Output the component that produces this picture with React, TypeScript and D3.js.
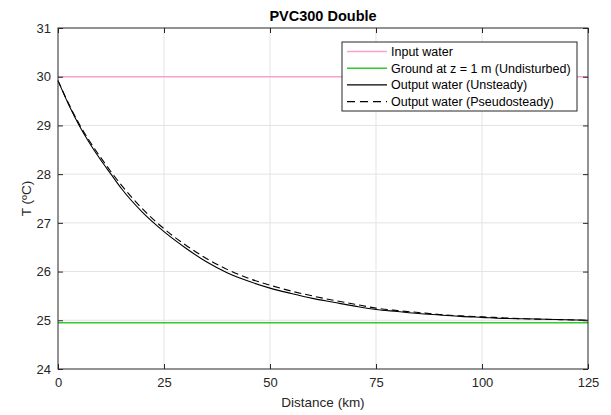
import React, { useEffect, useRef } from "react";
import * as d3 from "d3";

// distance along the pipe (km) and temperatures
const distanceKm = [0, 2.5, 5, 7.5, 10, 12.5, 15, 20, 25, 30, 35, 40, 45, 50, 55, 60, 65, 70, 75, 80, 85, 90, 95, 100, 105, 110, 115, 120, 125];
const unsteadyT = [29.92, 29.43, 29.0, 28.63, 28.3, 28.0, 27.7, 27.21, 26.82, 26.49, 26.2, 25.97, 25.8, 25.66, 25.55, 25.45, 25.37, 25.29, 25.22, 25.18, 25.14, 25.11, 25.08, 25.06, 25.04, 25.03, 25.02, 25.01, 25.0];
const pseudoT = [29.92, 29.45, 29.03, 28.67, 28.35, 28.05, 27.77, 27.28, 26.88, 26.55, 26.27, 26.04, 25.86, 25.72, 25.6, 25.5, 25.41, 25.33, 25.25, 25.2, 25.16, 25.12, 25.09, 25.07, 25.05, 25.03, 25.02, 25.01, 25.0];
const inputWaterT = 30;
const groundT = 24.95;

const xTicks = [0, 25, 50, 75, 100, 125];
const yTicks = [24, 25, 26, 27, 28, 29, 30, 31];

const legendItems = [
    { label: "Input water", color: "#f7a1d2", dash: "" },
    { label: "Ground at z = 1 m (Undisturbed)", color: "#2ecc2e", dash: "" },
    { label: "Output water (Unsteady)", color: "#000000", dash: "" },
    { label: "Output water (Pseudosteady)", color: "#000000", dash: "8,5" },
];

const App = () => {
    const ref = useRef<SVGSVGElement>(null);

    useEffect(() => {
        document.body.style.margin = "0";
        const svg = d3.select(ref.current);
        svg.selectAll("*").remove();

        const width = 611;
        const height = 415;
        const left = 58, right = 588, top = 28, bottom = 369;
        const axisColor = "#262626";
        const font = "'Liberation Sans', Arial, sans-serif";

        const xScale = d3.scaleLinear().domain([0, 125]).range([left, right]);
        const yScale = d3.scaleLinear().domain([24, 31]).range([bottom, top]);

        svg.attr("width", width).attr("height", height).style("background", "white");

        // grid
        const grid = svg.append("g").attr("stroke", "#e3e3e3").attr("stroke-width", 1);
        xTicks.slice(1, -1).forEach(t => {
            grid.append("line")
                .attr("x1", xScale(t)).attr("x2", xScale(t))
                .attr("y1", top).attr("y2", bottom);
        });
        yTicks.slice(1, -1).forEach(t => {
            grid.append("line")
                .attr("x1", left).attr("x2", right)
                .attr("y1", yScale(t)).attr("y2", yScale(t));
        });

        // flat reference lines
        svg.append("line")
            .attr("x1", xScale(0)).attr("x2", xScale(125))
            .attr("y1", yScale(inputWaterT)).attr("y2", yScale(inputWaterT))
            .attr("stroke", legendItems[0].color).attr("stroke-width", 1.6);
        svg.append("line")
            .attr("x1", xScale(0)).attr("x2", xScale(125))
            .attr("y1", yScale(groundT)).attr("y2", yScale(groundT))
            .attr("stroke", legendItems[1].color).attr("stroke-width", 1.4);

        const curve = d3.line<number>()
            .x((d, i) => xScale(distanceKm[i]))
            .y(d => yScale(d))
            .curve(d3.curveMonotoneX);

        svg.append("path")
            .attr("d", curve(pseudoT))
            .attr("fill", "none")
            .attr("stroke", "#000")
            .attr("stroke-width", 1.1)
            .attr("stroke-dasharray", "7,4");
        svg.append("path")
            .attr("d", curve(unsteadyT))
            .attr("fill", "none")
            .attr("stroke", "#000")
            .attr("stroke-width", 1.1);

        // axes (ticks point inward like matlab)
        const xAxis = d3.axisBottom(xScale).tickValues(xTicks).tickFormat(d3.format("d")).tickSizeInner(-5).tickSizeOuter(0).tickPadding(9);
        const yAxis = d3.axisLeft(yScale).tickValues(yTicks).tickFormat(d3.format("d")).tickSizeInner(-5).tickSizeOuter(0).tickPadding(7);

        const gx = svg.append("g")
            .attr("transform", "translate(0," + bottom + ")")
            .call(xAxis);
        const gy = svg.append("g")
            .attr("transform", "translate(" + left + ",0)")
            .call(yAxis);
        [gx, gy].forEach(g => {
            g.select(".domain").remove();
            g.selectAll("line").attr("stroke", axisColor);
            g.selectAll("text")
                .style("font-family", font)
                .style("font-size", "13px")
                .attr("fill", axisColor);
        });

        // top and right ticks
        const gt = svg.append("g").attr("transform", "translate(0," + top + ")")
            .call(d3.axisTop(xScale).tickValues(xTicks).tickSizeInner(-5).tickSizeOuter(0).tickFormat(() => ""));
        const gr = svg.append("g").attr("transform", "translate(" + right + ",0)")
            .call(d3.axisRight(yScale).tickValues(yTicks).tickSizeInner(-5).tickSizeOuter(0).tickFormat(() => ""));
        [gt, gr].forEach(g => {
            g.select(".domain").remove();
            g.selectAll("line").attr("stroke", axisColor);
        });

        // box
        svg.append("rect")
            .attr("x", left).attr("y", top)
            .attr("width", right - left).attr("height", bottom - top)
            .attr("fill", "none")
            .attr("stroke", axisColor)
            .attr("stroke-width", 1);

        // titles
        svg.append("text")
            .text("PVC300 Double")
            .attr("x", (left + right) / 2)
            .attr("y", 21)
            .attr("text-anchor", "middle")
            .style("font-family", font)
            .style("font-weight", "bold")
            .style("font-size", "14.5px")
            .attr("fill", "#000");

        svg.append("text")
            .text("Distance (km)")
            .attr("x", (left + right) / 2)
            .attr("y", 407)
            .attr("text-anchor", "middle")
            .style("font-family", font)
            .style("font-size", "13.5px")
            .attr("fill", axisColor);

        svg.append("text")
            .text("T (ºC)")
            .attr("transform", "rotate(-90)")
            .attr("x", -(top + bottom) / 2)
            .attr("y", 31)
            .attr("text-anchor", "middle")
            .style("font-family", font)
            .style("font-size", "13.5px")
            .attr("fill", axisColor);

        // legend
        const legend = svg.append("g").attr("transform", "translate(342,42)");
        legend.append("rect")
            .attr("width", 235)
            .attr("height", 69)
            .attr("fill", "white")
            .attr("stroke", axisColor)
            .attr("stroke-width", 1);
        legendItems.forEach((item, i) => {
            const y = 9.5 + i * 16.7;
            legend.append("line")
                .attr("x1", 5).attr("x2", 45)
                .attr("y1", y).attr("y2", y)
                .attr("stroke", item.color)
                .attr("stroke-width", item.color === "#000000" ? 1.1 : 1.6)
                .attr("stroke-dasharray", item.dash || null);
            legend.append("text")
                .text(item.label)
                .attr("x", 49)
                .attr("y", y + 4.5)
                .style("font-family", font)
                .style("font-size", "12.5px")
                .attr("fill", "#000");
        });
    }, []);

    return (
        <div>
            <svg ref={ref}></svg>
        </div>
    );
};

export default App;
